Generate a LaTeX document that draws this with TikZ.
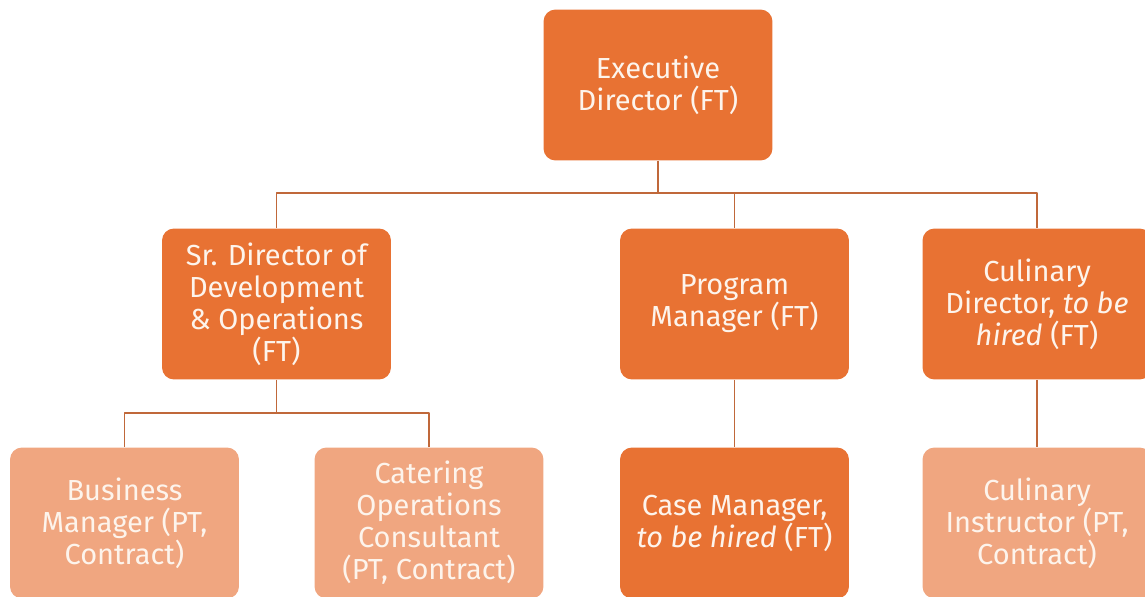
\documentclass[tikz,border=0pt]{standalone}
\usepackage{fontspec}
\setmainfont{Fira Sans}
\usetikzlibrary{positioning}

\definecolor{darkrole}{HTML}{E87233}
\definecolor{lightrole}{HTML}{F0A680}
\definecolor{rolelink}{HTML}{C0683A}
\definecolor{roletext}{HTML}{FDF4EC}

\tikzset{
  role/.style={rounded corners=0.24cm,minimum width=4.58cm,minimum height=3.02cm,
    align=center,inner sep=0pt,text=roletext,
    font=\fontsize{16.5}{18.2}\selectfont},
  fulltime/.style={role,fill=darkrole},
  parttime/.style={role,fill=lightrole},
  link/.style={draw=rolelink,line width=1pt}
}

\begin{document}
\begin{tikzpicture}[x=0.02cm,y=-0.02cm,line join=round]
  \useasboundingbox (0,0) rectangle (1145,596);
  \clip (0,0) rectangle (1145,596);

  % top of the chart
  \node[fulltime] (exec) at (658,85) {Executive\\Director (FT)};

  % second level
  \node[fulltime] (srdir) at (276.5,304) {Sr. Director of\\Development\\\& Operations\\(FT)};
  \node[fulltime] (progman) at (734.5,304) {Program\\Manager (FT)};
  \node[fulltime] (culdir) at (1037,304) {Culinary\\Director, \textit{to be}\\\textit{hired} (FT)};

  % third level
  \node[parttime] (busman) at (124.5,523) {Business\\Manager (PT,\\Contract)};
  \node[parttime] (cater) at (429,523) {Catering\\Operations\\Consultant\\(PT, Contract)};
  \node[fulltime] (caseman) at (734.5,523) {Case Manager,\\\textit{to be hired} (FT)};
  \node[parttime] (culinst) at (1037,523) {Culinary\\Instructor (PT,\\Contract)};

  % connectors
  \coordinate (topbar) at (658,193);
  \coordinate (srbar) at (276.5,413);
  \draw[link] (exec.south) -- (topbar);
  \draw[link] (srdir.north) |- (topbar);
  \draw[link] (progman.north) |- (topbar);
  \draw[link] (culdir.north) |- (topbar);
  \draw[link] (srdir.south) -- (srbar);
  \draw[link] (busman.north) |- (srbar);
  \draw[link] (cater.north) |- (srbar);
  \draw[link] (progman.south) -- (caseman.north);
  \draw[link] (culdir.south) -- (culinst.north);
\end{tikzpicture}
\end{document}
